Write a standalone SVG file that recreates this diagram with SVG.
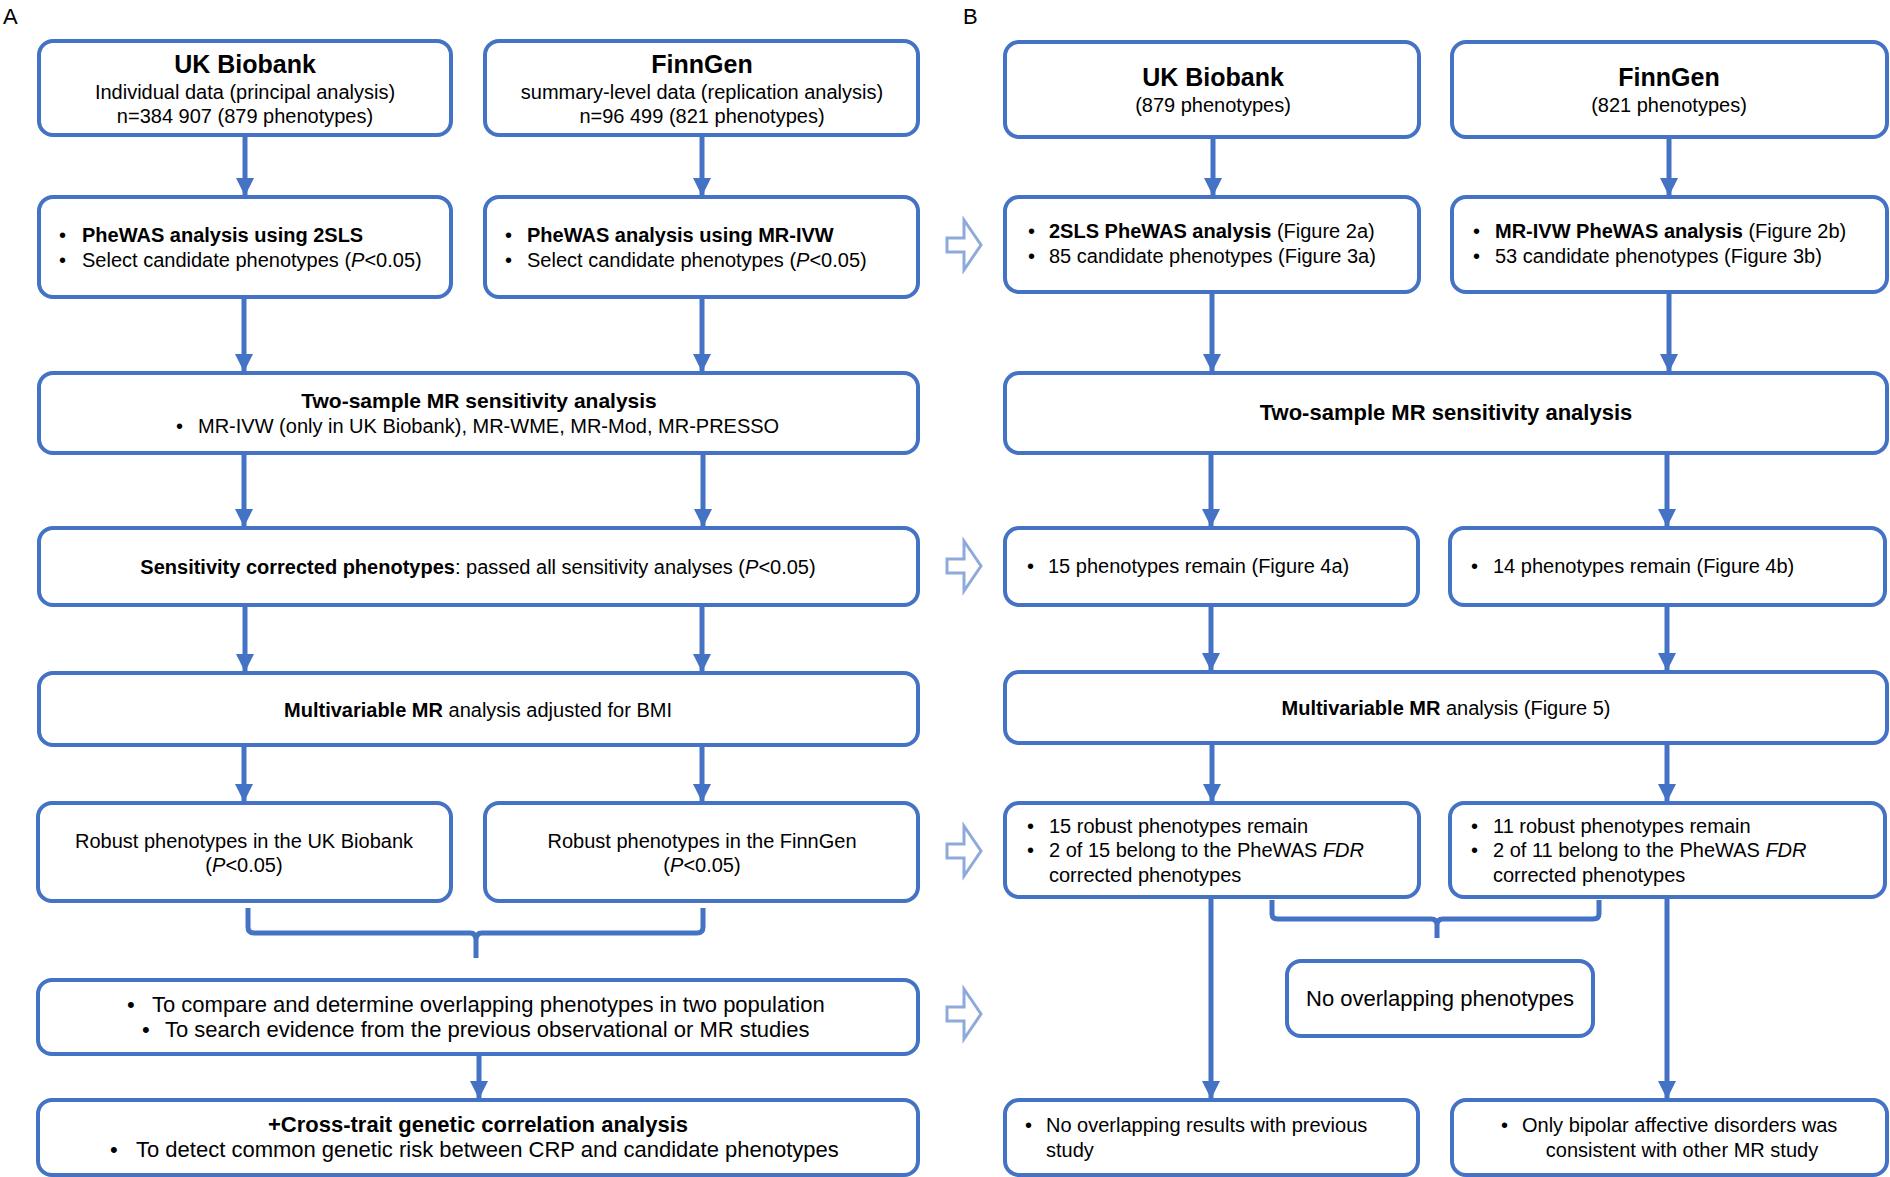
<svg xmlns="http://www.w3.org/2000/svg" width="1890" height="1177" viewBox="0 0 1890 1177">
<style>
text{font-family:"Liberation Sans",Arial,sans-serif;font-size:20px;fill:#000}
.b{font-weight:bold}
.t{font-weight:bold;font-size:25px}
.m{text-anchor:middle}
.i{font-style:italic}
.lg{font-size:22px}
.lbl{font-size:22px}
.box{fill:#fff;stroke:#4472C4;stroke-width:4}
.conn{stroke:#4472C4;stroke-width:5;fill:none}
.hol{fill:none;stroke:#8EAADB;stroke-width:3;stroke-linejoin:miter}
</style>
<defs>
<marker id="ah" markerUnits="userSpaceOnUse" markerWidth="18" markerHeight="18" refX="18" refY="9" orient="auto">
<path d="M0,0 L18,9 L0,18 Z" fill="#4472C4"/>
</marker>
</defs>
<rect width="1890" height="1177" fill="#fff"/>
<text x="3" y="24" class="lbl">A</text>
<text x="963" y="24" class="lbl">B</text>

<g id="connectors">
<line class="conn" x1="245" y1="137" x2="245" y2="196" marker-end="url(#ah)"/>
<line class="conn" x1="702" y1="137" x2="702" y2="196" marker-end="url(#ah)"/>
<line class="conn" x1="244" y1="299" x2="244" y2="372" marker-end="url(#ah)"/>
<line class="conn" x1="702" y1="299" x2="702" y2="372" marker-end="url(#ah)"/>
<line class="conn" x1="244" y1="455" x2="244" y2="527" marker-end="url(#ah)"/>
<line class="conn" x1="703" y1="455" x2="703" y2="527" marker-end="url(#ah)"/>
<line class="conn" x1="245" y1="607" x2="245" y2="672" marker-end="url(#ah)"/>
<line class="conn" x1="702" y1="607" x2="702" y2="672" marker-end="url(#ah)"/>
<line class="conn" x1="244" y1="747" x2="244" y2="802" marker-end="url(#ah)"/>
<line class="conn" x1="702" y1="747" x2="702" y2="802" marker-end="url(#ah)"/>
<path class="conn" d="M248,908 V927 Q248,933 254,933 H470 Q476,933 476,940 V958 M476,940 Q476,933 482,933 H697 Q703,933 703,927 V908"/>
<line class="conn" x1="479" y1="1056" x2="479" y2="1099" marker-end="url(#ah)"/>

<line class="conn" x1="1213" y1="139" x2="1213" y2="196" marker-end="url(#ah)"/>
<line class="conn" x1="1669" y1="139" x2="1669" y2="196" marker-end="url(#ah)"/>
<line class="conn" x1="1212" y1="294" x2="1212" y2="372" marker-end="url(#ah)"/>
<line class="conn" x1="1669" y1="294" x2="1669" y2="372" marker-end="url(#ah)"/>
<line class="conn" x1="1211" y1="455" x2="1211" y2="527" marker-end="url(#ah)"/>
<line class="conn" x1="1667" y1="455" x2="1667" y2="527" marker-end="url(#ah)"/>
<line class="conn" x1="1211" y1="607" x2="1211" y2="671" marker-end="url(#ah)"/>
<line class="conn" x1="1667" y1="607" x2="1667" y2="671" marker-end="url(#ah)"/>
<line class="conn" x1="1212" y1="745" x2="1212" y2="802" marker-end="url(#ah)"/>
<line class="conn" x1="1667" y1="745" x2="1667" y2="802" marker-end="url(#ah)"/>
<path class="conn" d="M1272,900 V914 Q1272,919 1278,919 H1431 Q1437,919 1437,925 V938 M1437,925 Q1437,919 1443,919 H1593 Q1599,919 1599,914 V900"/>
<line class="conn" x1="1211" y1="899" x2="1211" y2="1099" marker-end="url(#ah)"/>
<line class="conn" x1="1667" y1="899" x2="1667" y2="1099" marker-end="url(#ah)"/>

<path class="hol" d="M947,238 H964 V220 L981,245 L964,270 V252 H947 Z"/>
<path class="hol" d="M947,559 H964 V541 L981,566 L964,591 V573 H947 Z"/>
<path class="hol" d="M947,844 H964 V826 L981,851 L964,876 V858 H947 Z"/>
<path class="hol" d="M947,1007 H964 V989 L981,1014 L964,1039 V1021 H947 Z"/>
</g>

<g id="a-ukb">
<rect class="box" x="39" y="41" width="412" height="94" rx="14"/>
<text x="245" y="73" class="t m">UK Biobank</text>
<text x="245" y="99" class="m">Individual data (principal analysis)</text>
<text x="245" y="123" class="m">n=384 907 (879 phenotypes)</text>
</g>
<g id="a-finngen">
<rect class="box" x="485" y="41" width="433" height="94" rx="14"/>
<text x="702" y="73" class="t m">FinnGen</text>
<text x="702" y="99" class="m">summary-level data (replication analysis)</text>
<text x="702" y="123" class="m">n=96 499 (821 phenotypes)</text>
</g>
<g id="a-phewas-ukb">
<rect class="box" x="39" y="197" width="412" height="100" rx="14"/>
<text x="59" y="242">•</text><text x="82" y="242" class="b">PheWAS analysis using 2SLS</text>
<text x="59" y="267">•</text><text x="82" y="267">Select candidate phenotypes (<tspan class="i">P</tspan>&lt;0.05)</text>
</g>
<g id="a-phewas-fg">
<rect class="box" x="485" y="197" width="433" height="100" rx="14"/>
<text x="505" y="242">•</text><text x="527" y="242" class="b">PheWAS analysis using MR-IVW</text>
<text x="505" y="267">•</text><text x="527" y="267">Select candidate phenotypes (<tspan class="i">P</tspan>&lt;0.05)</text>
</g>
<g id="a-sens">
<rect class="box" x="39" y="373" width="879" height="80" rx="14"/>
<text x="479" y="408" class="b m" style="font-size:21px">Two-sample MR sensitivity analysis</text>
<text x="176" y="433">•</text><text x="198" y="433">MR-IVW (only in UK Biobank), MR-WME, MR-Mod, MR-PRESSO</text>
</g>
<g id="a-sens-corr">
<rect class="box" x="39" y="528" width="879" height="77" rx="14"/>
<text x="478" y="574" class="m"><tspan class="b">Sensitivity corrected phenotypes</tspan>: passed all sensitivity analyses (<tspan class="i">P</tspan>&lt;0.05)</text>
</g>
<g id="a-mvmr">
<rect class="box" x="39" y="673" width="879" height="72" rx="14"/>
<text x="478" y="717" class="m"><tspan class="b">Multivariable MR</tspan> analysis adjusted for BMI</text>
</g>
<g id="a-robust-ukb">
<rect class="box" x="38" y="803" width="413" height="98" rx="14"/>
<text x="244" y="848" class="m">Robust phenotypes in the UK Biobank</text>
<text x="244" y="872" class="m">(<tspan class="i">P</tspan>&lt;0.05)</text>
</g>
<g id="a-robust-fg">
<rect class="box" x="485" y="803" width="433" height="98" rx="14"/>
<text x="702" y="848" class="m">Robust phenotypes in the FinnGen</text>
<text x="702" y="872" class="m">(<tspan class="i">P</tspan>&lt;0.05)</text>
</g>
<g id="a-compare">
<rect class="box" x="38" y="980" width="880" height="74" rx="14"/>
<text x="127" y="1012" class="lg">•</text><text x="152" y="1012" class="lg">To compare and determine overlapping phenotypes in two population</text>
<text x="142" y="1037" class="lg">•</text><text x="165" y="1037" class="lg">To search evidence from the previous observational or MR studies</text>
</g>
<g id="a-cross">
<rect class="box" x="38" y="1100" width="880" height="75" rx="14"/>
<text x="478" y="1132" class="b m lg">+Cross-trait genetic correlation analysis</text>
<text x="110" y="1157" class="lg">•</text><text x="136" y="1157" class="lg">To detect common genetic risk between CRP and candidate phenotypes</text>
</g>

<g id="b-ukb">
<rect class="box" x="1005" y="42" width="414" height="95" rx="14"/>
<text x="1213" y="86" class="t m">UK Biobank</text>
<text x="1213" y="112" class="m">(879 phenotypes)</text>
</g>
<g id="b-finngen">
<rect class="box" x="1452" y="42" width="435" height="95" rx="14"/>
<text x="1669" y="86" class="t m">FinnGen</text>
<text x="1669" y="112" class="m">(821 phenotypes)</text>
</g>
<g id="b-phewas-ukb">
<rect class="box" x="1005" y="197" width="414" height="95" rx="14"/>
<text x="1028" y="238">•</text><text x="1049" y="238"><tspan class="b">2SLS PheWAS analysis</tspan> (Figure 2a)</text>
<text x="1028" y="263">•</text><text x="1049" y="263">85 candidate phenotypes (Figure 3a)</text>
</g>
<g id="b-phewas-fg">
<rect class="box" x="1452" y="197" width="435" height="95" rx="14"/>
<text x="1473" y="238">•</text><text x="1495" y="238"><tspan class="b">MR-IVW PheWAS analysis</tspan> (Figure 2b)</text>
<text x="1473" y="263">•</text><text x="1495" y="263">53 candidate phenotypes (Figure 3b)</text>
</g>
<g id="b-sens">
<rect class="box" x="1005" y="373" width="882" height="80" rx="14"/>
<text x="1446" y="420" class="b m" style="font-size:22px">Two-sample MR sensitivity analysis</text>
</g>
<g id="b-remain-ukb">
<rect class="box" x="1005" y="528" width="413" height="77" rx="14"/>
<text x="1027" y="573">•</text><text x="1048" y="573">15 phenotypes remain (Figure 4a)</text>
</g>
<g id="b-remain-fg">
<rect class="box" x="1450" y="528" width="435" height="77" rx="14"/>
<text x="1471" y="573">•</text><text x="1493" y="573">14 phenotypes remain (Figure 4b)</text>
</g>
<g id="b-mvmr">
<rect class="box" x="1005" y="672" width="882" height="71" rx="14"/>
<text x="1446" y="715" class="m"><tspan class="b">Multivariable MR</tspan> analysis (Figure 5)</text>
</g>
<g id="b-robust-ukb">
<rect class="box" x="1005" y="803" width="414" height="94" rx="14"/>
<text x="1027" y="833">•</text><text x="1049" y="833">15 robust phenotypes remain</text>
<text x="1027" y="857">•</text><text x="1049" y="857">2 of 15 belong to the PheWAS <tspan class="i">FDR</tspan></text>
<text x="1049" y="882">corrected phenotypes</text>
</g>
<g id="b-robust-fg">
<rect class="box" x="1450" y="803" width="435" height="94" rx="14"/>
<text x="1471" y="833">•</text><text x="1493" y="833">11 robust phenotypes remain</text>
<text x="1471" y="857">•</text><text x="1493" y="857">2 of 11 belong to the PheWAS <tspan class="i">FDR</tspan></text>
<text x="1493" y="882">corrected phenotypes</text>
</g>
<g id="b-nooverlap">
<rect class="box" x="1287" y="961" width="306" height="75" rx="14"/>
<text x="1440" y="1006" class="m lg">No overlapping phenotypes</text>
</g>
<g id="b-prev-ukb">
<rect class="box" x="1005" y="1100" width="413" height="75" rx="14"/>
<text x="1025" y="1132">•</text><text x="1046" y="1132">No overlapping results with previous</text>
<text x="1046" y="1157">study</text>
</g>
<g id="b-prev-fg">
<rect class="box" x="1452" y="1100" width="435" height="75" rx="14"/>
<text x="1501" y="1132">•</text><text x="1522" y="1132">Only bipolar affective disorders was</text>
<text x="1682" y="1157" class="m">consistent with other MR study</text>
</g>
</svg>
